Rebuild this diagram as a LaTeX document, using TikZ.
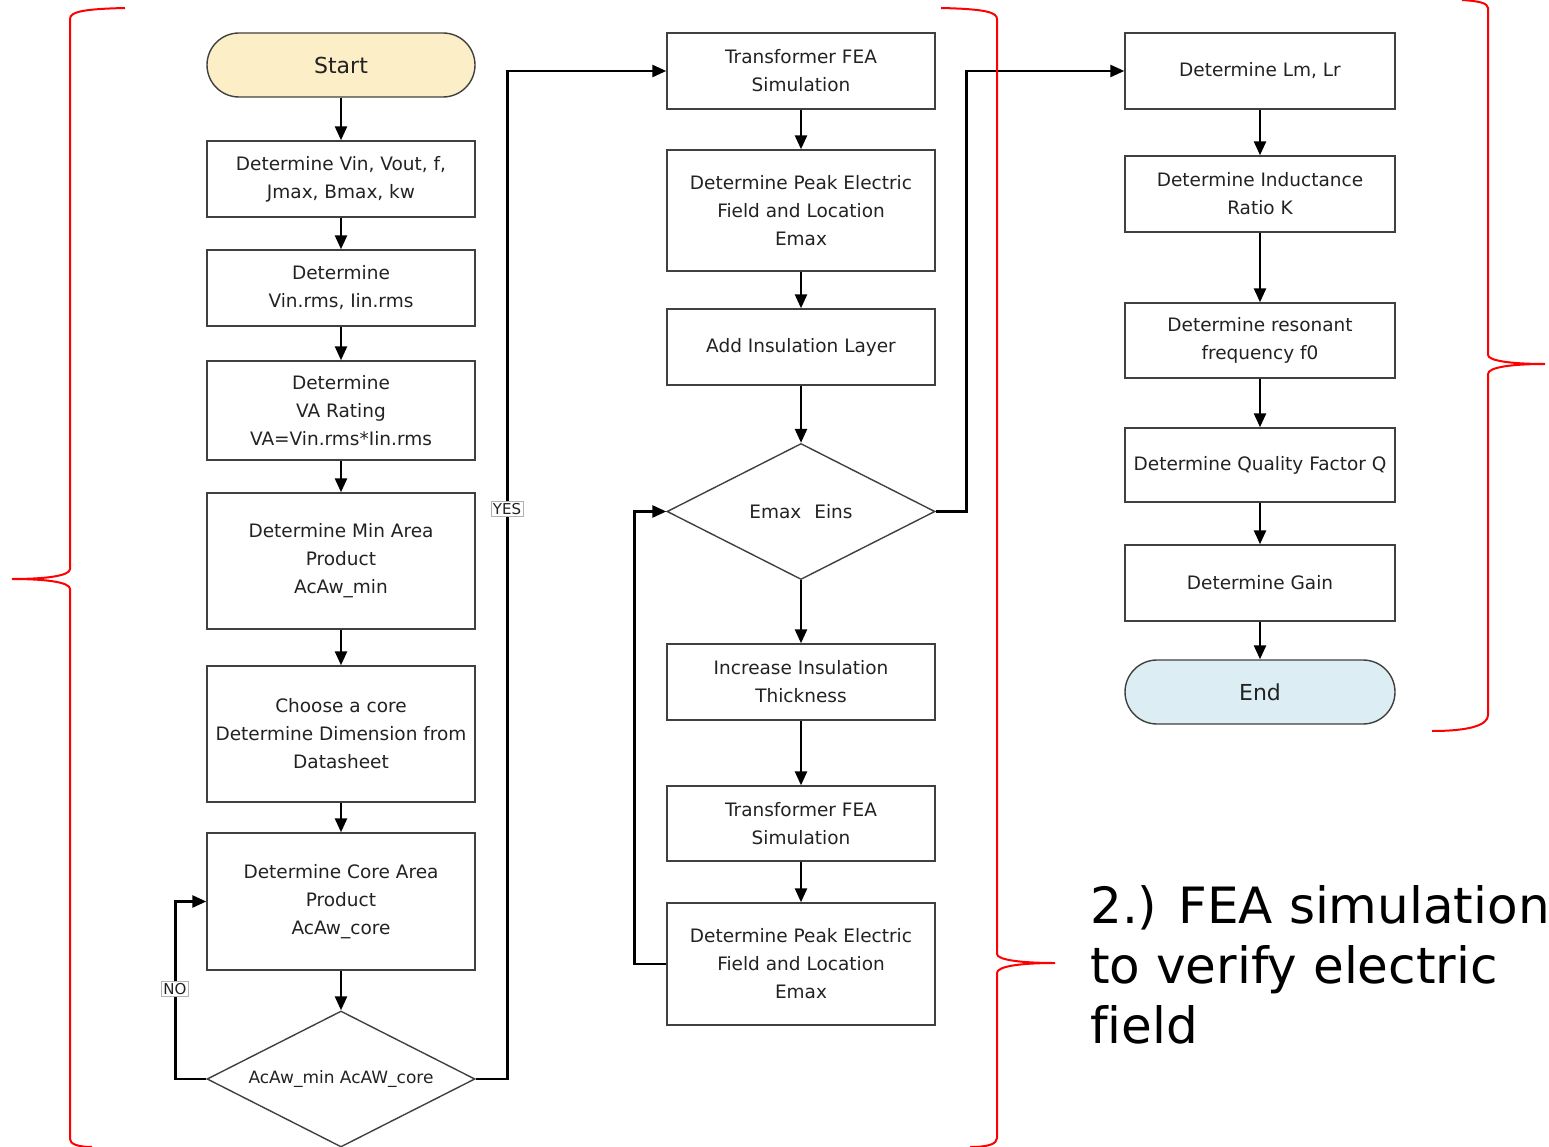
\documentclass[tikz,border=0pt]{standalone}
\usepackage{fontspec}
\setmainfont{DejaVu Sans}
\usetikzlibrary{shapes.geometric,arrows.meta,positioning}
\definecolor{startfill}{HTML}{FCEFC7}
\definecolor{endfill}{HTML}{DCEEF4}
\definecolor{bord}{HTML}{404040}
\definecolor{txt}{HTML}{222222}
\begin{document}
\begin{tikzpicture}[x=1pt,y=-1pt,
  box/.style={draw=bord,line width=1.4pt,minimum width=268pt,inner sep=0pt,align=center,text=txt,
     font=\fontsize{18.5}{28}\selectfont},
  term/.style={box,rounded corners=32pt,minimum height=64pt,font=\fontsize{22}{26}\selectfont},
  dec/.style={diamond,draw=bord,line width=1.4pt,minimum width=268pt,minimum height=136pt,inner sep=0pt,text=txt,
     font=\fontsize{18.5}{24}\selectfont},
  arr/.style={line width=2.6pt,-{Triangle[length=14pt,width=12pt]}},
  lbl/.style={draw=black!30,line width=0.7pt,fill=white,inner sep=2pt,font=\fontsize{15}{17}\selectfont,text=txt},
  brace/.style={red,line width=2pt},
  big/.style={align=left,anchor=north west,inner sep=0pt,font=\fontsize{50}{60}\selectfont}]
\useasboundingbox (0,0) rectangle (1549,1147);
% column 1
\node[term,fill=startfill] (start) at (341,65) {Start};
\node[box,minimum height=76pt] (b1) at (341,179) {Determine Vin, Vout, f,\\Jmax, Bmax, kw};
\node[box,minimum height=76pt] (b2) at (341,288) {Determine\\Vin.rms, Iin.rms};
\node[box,minimum height=99pt] (b3) at (341,410.5) {Determine\\VA Rating\\VA=Vin.rms*Iin.rms};
\node[box,minimum height=136pt] (b4) at (341,561) {Determine Min Area\\Product\\AcAw\_min};
\node[box,minimum height=136pt] (b5) at (341,734) {Choose a core\\Determine Dimension from\\Datasheet};
\node[box,minimum height=137pt] (b6) at (341,901.5) {Determine Core Area\\Product\\AcAw\_core};
\node[dec,font=\fontsize{17}{20}\selectfont] (d1) at (341,1079) {\makebox[0pt]{AcAw\_min AcAW\_core}};
% column 2
\node[box,minimum height=76pt] (c1) at (801,71) {Transformer FEA\\Simulation};
\node[box,minimum height=121pt] (c2) at (801,210.5) {Determine Peak Electric\\Field and Location\\Emax};
\node[box,minimum height=76pt] (c3) at (801,347) {Add Insulation Layer};
\node[dec] (d2) at (801,511.5) {\makebox[0pt]{Emax\hspace{0.7em}Eins}};
\node[box,minimum height=76pt] (c4) at (801,682) {Increase Insulation\\Thickness};
\node[box,minimum height=75pt] (c5) at (801,823.5) {Transformer FEA\\Simulation};
\node[box,minimum height=122pt] (c6) at (801,964) {Determine Peak Electric\\Field and Location\\Emax};
% column 3
\node[box,minimum height=76pt,minimum width=270pt] (r1) at (1260,71) {Determine Lm, Lr};
\node[box,minimum height=76pt,minimum width=270pt] (r2) at (1260,194) {Determine Inductance\\Ratio K};
\node[box,minimum height=75pt,minimum width=270pt] (r3) at (1260,340.5) {Determine resonant\\frequency f0};
\node[box,minimum height=74pt,minimum width=270pt] (r4) at (1260,465) {Determine Quality Factor Q};
\node[box,minimum height=76pt,minimum width=270pt] (r5) at (1260,583) {Determine Gain};
\node[term,fill=endfill,minimum width=270pt] (end) at (1260,692) {End};
% connectors column 1
\draw[arr] (start) -- (b1);
\draw[arr] (b1) -- (b2);
\draw[arr] (b2) -- (b3);
\draw[arr] (b3) -- (b4);
\draw[arr] (b4) -- (b5);
\draw[arr] (b5) -- (b6);
\draw[arr] (b6) -- (d1);
\draw[arr] (d1.west) -- ++(-31,0) |- (b6.west);
\draw[arr] (d1.east) -- ++(32,0) |- (c1.west);
\node[lbl] (no) at (175,989) {NO};
\node[lbl] (yes) at (507,509) {YES};
% column 2
\draw[arr] (c1) -- (c2);
\draw[arr] (c2) -- (c3);
\draw[arr] (c3) -- (d2);
\draw[arr] (d2) -- (c4);
\draw[arr] (c4) -- (c5);
\draw[arr] (c5) -- (c6);
\draw[arr] (c6.west) -- ++(-32,0) |- (d2.west);
\draw[arr] (d2.east) -- ++(31,0) |- (r1.west);
% column 3
\draw[arr] (r1) -- (r2);
\draw[arr] (r2) -- (r3);
\draw[arr] (r3) -- (r4);
\draw[arr] (r4) -- (r5);
\draw[arr] (r5) -- (end);
% braces
\draw[brace] (125,8) .. controls (82,9) and (70,12) .. (70,19) -- (70,569)
  .. controls (70,576) and (45,579) .. (12,579) .. controls (45,579) and (70,582) .. (70,589)
  -- (70,1139) .. controls (70,1144) and (78,1147) .. (92,1147);
\draw[brace] (941,8) .. controls (984,9) and (997,12) .. (997,19) -- (997,954)
  .. controls (997,960) and (1022,963) .. (1055,963) .. controls (1022,963) and (997,966) .. (997,973)
  -- (997,1138) .. controls (997,1144) and (988,1147) .. (970,1147);
\draw[brace] (1462,0) .. controls (1478,1) and (1488,3) .. (1488,8) -- (1488,355)
  .. controls (1488,361) and (1513,364) .. (1545,364) .. controls (1513,364) and (1488,367) .. (1488,374)
  -- (1488,715) .. controls (1488,725) and (1470,731) .. (1432,731);
% side text
\node[big] (note) at (1090,885) {2.) FEA simulation\\to verify electric\\f\kern0pt ield};
\end{tikzpicture}
\end{document}
